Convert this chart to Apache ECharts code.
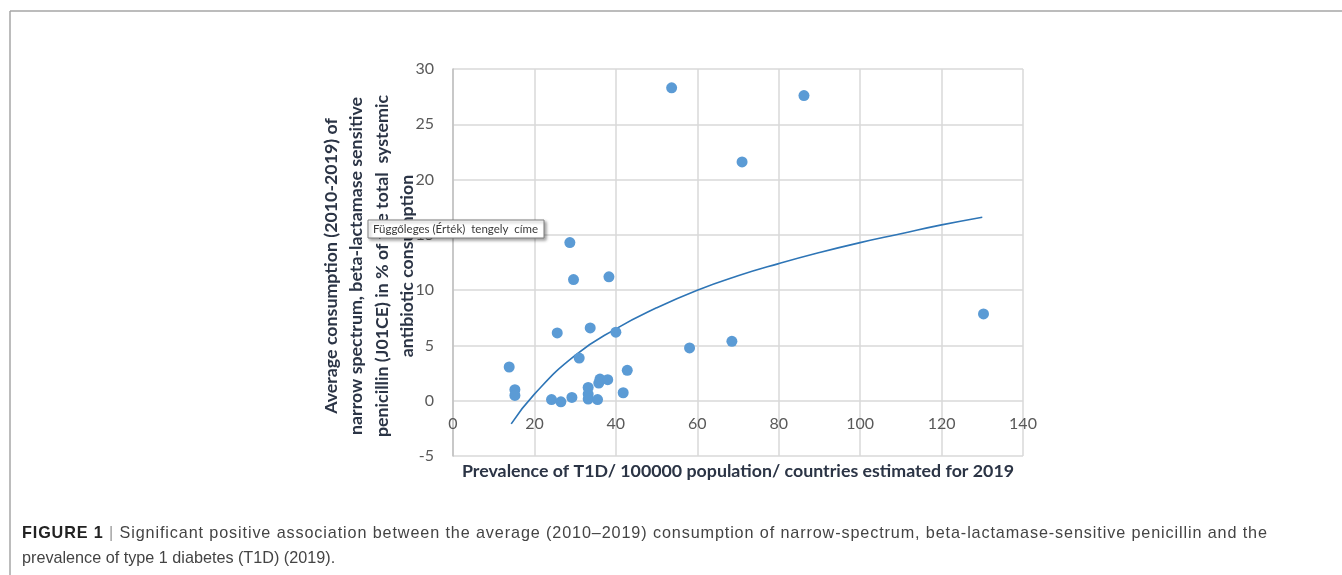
<!DOCTYPE html>
<html>
<head>
<meta charset="utf-8">
<script src="https://cdn.jsdelivr.net/npm/echarts@6/dist/echarts.min.js"></script>
<style>
html,body{margin:0;padding:0;background:#fff;}
#c{width:1342px;height:575px;}
</style>
</head>
<body>
<div id="c"></div>
<script>
// Scatter data: prevalence of T1D (x) vs consumption % (y)
var prevalence = [53.7, 86.2, 71.0, 28.7, 29.6, 38.3, 25.6, 33.7, 40.0, 58.1, 68.5, 130.3, 13.8, 31.0, 42.8, 15.2, 15.2, 24.2, 26.5, 29.2, 33.2, 33.2, 33.2, 35.5, 35.8, 36.1, 38.0, 41.8];
var consumption = [28.3, 27.6, 21.6, 14.3, 10.96, 11.2, 6.13, 6.58, 6.2, 4.77, 5.37, 7.85, 3.05, 3.86, 2.75, 1.0, 0.48, 0.1, -0.1, 0.3, 1.2, 0.6, 0.15, 0.1, 1.6, 1.96, 1.9, 0.72];
// Trend line (logarithmic)
var trendX = [14.3, 20, 30, 40, 50, 60, 70, 80, 90, 100, 110, 120, 130];
var trendY = [-2.1, 0.6, 4.1, 6.5, 8.4, 10.0, 11.3, 12.4, 13.4, 14.3, 15.1, 15.9, 16.6];
var xTicks = [0, 20, 40, 60, 80, 100, 120, 140];
var yTicks = [-5, 0, 5, 10, 15, 20, 25, 30];

var yTitleLines = [
  "Average consumption (2010-2019) of",
  "narrow spectrum, beta-lactamase sensitive",
  "penicillin (J01CE) in % of the total  systemic",
  "antibiotic consumption"
];
var xTitle = "Prevalence of T1D/ 100000 population/ countries estimated for 2019";
var tipText = "Függőleges (Érték)  tengely  címe";
var captionBold = "FIGURE 1";
var captionLine1 = " | Significant positive association between the average (2010–2019) consumption of narrow-spectrum, beta-lactamase-sensitive penicillin and the";
var captionLine2 = "prevalence of type 1 diabetes (T1D) (2019).";

var scatterData = prevalence.map(function(x, i){ return [x, consumption[i]]; });
var trendData = trendX.map(function(x, i){ return [x, trendY[i]]; });

var labelFont = 'Lato, "Open Sans", sans-serif';
var capBoldFont = 'bold 16.2px "Liberation Sans", Arial, sans-serif';
var capFont = '16.2px "Liberation Sans", Arial, sans-serif';

// Justified layout of caption line 1 (spacing spread over all characters)
var measureCtx = document.createElement('canvas').getContext('2d');
function textWidth(t, f){ measureCtx.font = f; return measureCtx.measureText(t).width; }
var chars = [];
captionBold.split('').forEach(function(c){ chars.push({t:c, f:capBoldFont, fill:'#222'}); });
captionLine1.split('').forEach(function(c){ chars.push({t:c, f:capFont, fill: c === '|' ? '#999' : '#444'}); });
var capLeft = 22, capRight = 1267;
var totalW = 0;
chars.forEach(function(ch){ ch.w = textWidth(ch.t, ch.f); totalW += ch.w; });
var gap = (capRight - capLeft - totalW) / (chars.length - 1);
var cx = capLeft;
var captionGraphics = [];
chars.forEach(function(ch){
  if (ch.t !== ' ') {
    captionGraphics.push({type:'text', x:cx, y:534, silent:true,
      style:{text:ch.t, font:ch.f, fill:ch.fill, textVerticalAlign:'middle'}});
  }
  cx += ch.w + gap;
});

var chart = echarts.init(document.getElementById('c'), null, {renderer:'canvas'});
chart.setOption({
  animation:false,
  backgroundColor:'#fff',
  grid:{left:453, right:319, top:69, bottom:119, containLabel:false},
  xAxis:{
    type:'value', min:xTicks[0], max:xTicks[xTicks.length-1], interval:20,
    offset:-55,
    axisLine:{show:false, onZero:false},
    axisTick:{show:false},
    axisLabel:{color:'#595959', fontSize:16, fontFamily:labelFont, margin:15,
      formatter:function(v){ return xTicks.indexOf(v) >= 0 ? String(v) : ''; }},
    splitLine:{show:true, lineStyle:{color:'#d9d9d9', width:1.5}}
  },
  yAxis:{
    type:'value', min:yTicks[0], max:yTicks[yTicks.length-1], interval:5,
    axisLine:{show:true, onZero:false, lineStyle:{color:'#bfbfbf', width:1.5}},
    axisTick:{show:false},
    axisLabel:{color:'#595959', fontSize:16, fontFamily:labelFont, margin:19},
    splitLine:{show:true, lineStyle:{color:'#d9d9d9', width:1.5}}
  },
  series:[
    {
      type:'line', data:trendData, smooth:true, showSymbol:false, symbol:'none',
      lineStyle:{color:'#2e75b6', width:1.6}, z:2
    },
    {
      type:'scatter', data:scatterData, symbolSize:11,
      itemStyle:{color:'#5b9bd5', opacity:1}, z:3
    }
  ],
  graphic:[
    {type:'line', shape:{x1:10, y1:11, x2:1342, y2:11}, style:{stroke:'#a6a6a6', lineWidth:1.5}, silent:true},
    {type:'line', shape:{x1:10, y1:11, x2:10, y2:575}, style:{stroke:'#a6a6a6', lineWidth:1.5}, silent:true},
    {type:'text', x:369.5, y:266, rotation:Math.PI/2,
      style:{text:yTitleLines.join('\n'), font:'bold 17.8px ' + labelFont, fill:'#2b3445',
        textAlign:'center', textVerticalAlign:'middle', lineHeight:25.5}},
    {type:'text', x:738, y:471,
      style:{text:xTitle, font:'bold 17.8px ' + labelFont, fill:'#2b3445',
        textAlign:'center', textVerticalAlign:'middle'}},
    {type:'rect', shape:{x:368, y:220, width:176, height:18},
      style:{fill:'#fff', stroke:'#7f7f7f', lineWidth:1, shadowBlur:3, shadowOffsetX:2, shadowOffsetY:2, shadowColor:'rgba(0,0,0,0.35)'}, z:10},
    {type:'text', x:373, y:229.5, z:11,
      style:{text:tipText, font:'11.5px ' + labelFont, fill:'#3a3a3a', textAlign:'left', textVerticalAlign:'middle'}},
    {type:'text', x:22, y:559,
      style:{text:captionLine2, font:capFont, fill:'#444', textVerticalAlign:'middle'}}
  ].concat(captionGraphics)
});
</script>
</body>
</html>
